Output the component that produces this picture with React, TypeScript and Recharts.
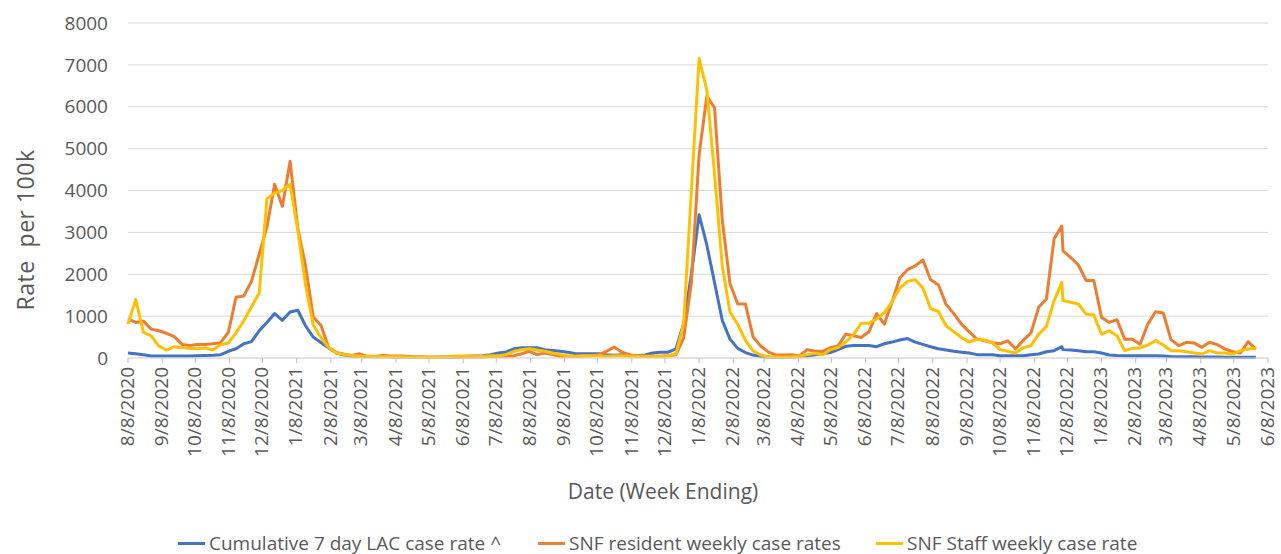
import { CartesianGrid, Label, Legend, Line, LineChart, XAxis, YAxis } from "recharts"

// week-ending dates (Saturdays, switching to Sundays in Dec 2022)
const weekEnding = [
  "2020-08-08", "2020-08-15", "2020-08-22", "2020-08-29", "2020-09-05", "2020-09-12", "2020-09-19", "2020-09-26",
  "2020-10-03", "2020-10-10", "2020-10-17", "2020-10-24", "2020-10-31", "2020-11-07", "2020-11-14", "2020-11-21",
  "2020-11-28", "2020-12-05", "2020-12-12", "2020-12-19", "2020-12-26", "2021-01-02", "2021-01-09", "2021-01-16",
  "2021-01-23", "2021-01-30", "2021-02-06", "2021-02-13", "2021-02-20", "2021-02-27", "2021-03-06", "2021-03-13",
  "2021-03-20", "2021-03-27", "2021-04-03", "2021-04-10", "2021-04-17", "2021-04-24", "2021-05-01", "2021-05-08",
  "2021-05-15", "2021-05-22", "2021-05-29", "2021-06-05", "2021-06-12", "2021-06-19", "2021-06-26", "2021-07-03",
  "2021-07-10", "2021-07-17", "2021-07-24", "2021-07-31", "2021-08-07", "2021-08-14", "2021-08-21", "2021-08-28",
  "2021-09-04", "2021-09-11", "2021-09-18", "2021-09-25", "2021-10-02", "2021-10-09", "2021-10-16", "2021-10-23",
  "2021-10-30", "2021-11-06", "2021-11-13", "2021-11-20", "2021-11-27", "2021-12-04", "2021-12-11", "2021-12-18",
  "2021-12-25", "2022-01-01", "2022-01-08", "2022-01-15", "2022-01-22", "2022-01-29", "2022-02-05", "2022-02-12",
  "2022-02-19", "2022-02-26", "2022-03-05", "2022-03-12", "2022-03-19", "2022-03-26", "2022-04-02", "2022-04-09",
  "2022-04-16", "2022-04-23", "2022-04-30", "2022-05-07", "2022-05-14", "2022-05-21", "2022-05-28", "2022-06-04",
  "2022-06-11", "2022-06-18", "2022-06-25", "2022-07-02", "2022-07-09", "2022-07-16", "2022-07-23", "2022-07-30",
  "2022-08-06", "2022-08-13", "2022-08-20", "2022-08-27", "2022-09-03", "2022-09-10", "2022-09-17", "2022-09-24",
  "2022-10-01", "2022-10-08", "2022-10-15", "2022-10-22", "2022-10-29", "2022-11-05", "2022-11-12", "2022-11-19",
  "2022-11-26", "2022-12-03", "2022-12-04", "2022-12-11", "2022-12-18", "2022-12-25", "2023-01-01", "2023-01-08",
  "2023-01-15", "2023-01-22", "2023-01-29", "2023-02-05", "2023-02-12", "2023-02-19", "2023-02-26", "2023-03-05",
  "2023-03-12", "2023-03-19", "2023-03-26", "2023-04-02", "2023-04-09", "2023-04-16", "2023-04-23", "2023-04-30",
  "2023-05-07", "2023-05-14", "2023-05-21", "2023-05-28",
]

const lacRate = [
  120, 100, 80, 50, 45, 45, 45, 45, 45, 55,
  60, 65, 80, 160, 220, 340, 390, 650, 850, 1060,
  900, 1100, 1140, 770, 500, 370, 240, 120, 70, 45,
  40, 35, 30, 30, 30, 25, 25, 20, 20, 20,
  20, 20, 25, 30, 40, 50, 55, 80, 120, 145,
  220, 245, 245, 245, 200, 180, 160, 140, 100, 100,
  100, 100, 80, 65, 80, 65, 55, 70, 120, 140,
  140, 220, 820, 2000, 3420, 2700, 1800, 900, 450, 230,
  130, 70, 40, 25, 20, 20, 20, 40, 55, 80,
  100, 130, 200, 280, 300, 300, 300, 270, 340, 380,
  430, 465, 380, 325, 270, 220, 190, 160, 140, 120,
  80, 80, 80, 55, 55, 55, 55, 80, 95, 150,
  175, 270, 200, 190, 175, 150, 150, 120, 70, 60,
  55, 55, 55, 55, 55, 50, 35, 30, 30, 30,
  25, 25, 25, 20, 20, 20, 20, 15,
]

const residentRate = [
  935, 850, 880, 690, 650, 590, 510, 325, 300, 325,
  325, 340, 365, 610, 1450, 1480, 1830, 2480, 3130, 4150,
  3620, 4700, 3100, 2200, 980, 780, 250, 130, 90, 60,
  100, 40, 35, 60, 50, 45, 40, 30, 25, 20,
  20, 25, 30, 30, 25, 25, 25, 40, 40, 40,
  55, 100, 160, 80, 120, 80, 40, 40, 40, 55,
  55, 80, 160, 260, 140, 80, 40, 40, 40, 40,
  55, 80, 480, 1800, 4850, 6250, 5980, 3300, 1780, 1290,
  1290, 500, 280, 140, 70, 70, 80, 50, 200, 160,
  160, 245, 285, 570, 530, 490, 625, 1060, 810, 1340,
  1910, 2110, 2200, 2340, 1870, 1750, 1280, 1060, 810, 625,
  450, 410, 365, 340, 410, 220, 420, 600, 1210, 1410,
  2850, 3150, 2560, 2400, 2220, 1850, 1850, 970, 850, 915,
  450, 450, 330, 810, 1105, 1075, 440, 295, 375, 360,
  255, 375, 320, 215, 150, 120, 390, 215,
]

const staffRate = [
  810, 1400, 610, 530, 285, 190, 270, 245, 230, 220,
  240, 190, 320, 360, 600, 890, 1220, 1550, 3800, 3940,
  4000, 4150, 3050, 1750, 790, 490, 250, 120, 80, 60,
  40, 40, 35, 30, 30, 30, 25, 25, 20, 20,
  20, 25, 40, 50, 50, 40, 40, 55, 55, 80,
  160, 200, 220, 190, 160, 120, 80, 55, 40, 55,
  55, 55, 40, 55, 55, 40, 40, 40, 40, 40,
  55, 100, 820, 4000, 7150, 6400, 4400, 2200, 1100, 800,
  420, 170, 70, 30, 25, 25, 25, 40, 80, 110,
  80, 200, 250, 380, 560, 830, 830, 935, 1080, 1340,
  1670, 1830, 1870, 1670, 1180, 1110, 770, 625, 490, 380,
  450, 430, 365, 200, 160, 120, 245, 295, 570, 750,
  1370, 1805, 1370, 1330, 1290, 1050, 1025, 570, 650, 530,
  175, 230, 240, 310, 415, 310, 175, 175, 150, 120,
  95, 175, 120, 120, 95, 175, 215, 230,
]

const monthTicks = [
  "8/8/2020", "9/8/2020", "10/8/2020", "11/8/2020", "12/8/2020",
  "1/8/2021", "2/8/2021", "3/8/2021", "4/8/2021", "5/8/2021", "6/8/2021",
  "7/8/2021", "8/8/2021", "9/8/2021", "10/8/2021", "11/8/2021", "12/8/2021",
  "1/8/2022", "2/8/2022", "3/8/2022", "4/8/2022", "5/8/2022", "6/8/2022",
  "7/8/2022", "8/8/2022", "9/8/2022", "10/8/2022", "11/8/2022", "12/8/2022",
  "1/8/2023", "2/8/2023", "3/8/2023", "4/8/2023", "5/8/2023", "6/8/2023",
]

const rateTicks = [0, 1000, 2000, 3000, 4000, 5000, 6000, 7000, 8000]

const seriesOrder = ["lac", "resident", "staff"]

const FONT = '"Open Sans", "Noto Sans", sans-serif'
const GREY = "#595959"

const isoTime = (s: string) => {
  const [y, m, d] = s.split("-").map(Number)
  return Date.UTC(y, m - 1, d)
}
const mdyTime = (s: string) => {
  const [m, d, y] = s.split("/").map(Number)
  return Date.UTC(y, m - 1, d)
}

const data = weekEnding.map((d, i) => ({
  t: isoTime(d),
  lac: lacRate[i],
  resident: residentRate[i],
  staff: staffRate[i],
}))

const tickTimes = monthTicks.map(mdyTime)
const tickText = new Map(tickTimes.map((t, i) => [t, monthTicks[i]]))

function DateTick(props: any) {
  const { x, y, payload } = props
  return (
    <g transform={`translate(${x},${y})`}>
      <text transform="rotate(-90)" x={-2} y={0} dy="0.3em" textAnchor="end" fill={GREY} fontSize={19} fontFamily={FONT}>
        {tickText.get(payload.value)}
      </text>
    </g>
  )
}

const legendWidths = [360, 338, 300]

function LegendContent(props: any) {
  const items = [...(props.payload ?? [])].sort(
    (a: any, b: any) => seriesOrder.indexOf(a.dataKey) - seriesOrder.indexOf(b.dataKey)
  )
  return (
    <div style={{ display: "flex", paddingLeft: 178, fontFamily: FONT, fontSize: 19, color: GREY, lineHeight: "26px" }}>
      {items.map((p: any, i: number) => (
        <div key={p.dataKey} style={{ display: "flex", alignItems: "center", width: legendWidths[i], whiteSpace: "nowrap" }}>
          <span style={{ display: "inline-block", width: 27, height: 3, background: p.color, marginRight: 4 }} />
          {p.value}
        </div>
      ))}
    </div>
  )
}

export default function App() {
  return (
    <div style={{ position: "absolute", left: 0, top: 0, width: 1281, height: 554, background: "#fff" }}>
      <LineChart width={1281} height={554} data={data} margin={{ top: 23, right: 13, left: 0, bottom: 0 }}>
        <CartesianGrid vertical={false} stroke="#d9d9d9" strokeWidth={1} />
        <XAxis
          dataKey="t"
          type="number"
          scale="linear"
          domain={[tickTimes[0], tickTimes[tickTimes.length - 1]]}
          ticks={tickTimes}
          interval={0}
          height={196}
          tick={<DateTick />}
          tickSize={5}
          tickMargin={2}
          tickLine={{ stroke: "#bfbfbf" }}
          axisLine={{ stroke: "#d9d9d9" }}
        >
          <Label
            content={() => (
              <text x={663} y={491} textAnchor="middle" dominantBaseline="central" fill={GREY} fontSize={21} fontFamily={FONT}>
                Date (Week Ending)
              </text>
            )}
          />
        </XAxis>
        <YAxis
          domain={[0, 8000]}
          ticks={rateTicks}
          width={128}
          axisLine={false}
          tickLine={false}
          tickSize={0}
          tickMargin={20}
          tick={{ fill: GREY, fontSize: 19, fontFamily: FONT }}
        >
          <Label
            content={() => (
              <text
                x={25}
                y={230}
                transform="rotate(-90 25 230)"
                textAnchor="middle"
                dominantBaseline="central"
                fill={GREY}
                fontSize={23}
                letterSpacing={0.5}
                fontFamily={FONT}
                style={{ whiteSpace: "pre" }}
              >
                {"Rate  per 100k"}
              </text>
            )}
          />
        </YAxis>
        <Legend
          layout="horizontal"
          align="center"
          verticalAlign="middle"
          content={<LegendContent />}
          wrapperStyle={{ top: 530, left: 0, width: 1281 }}
        />
        <Line
          type="linear"
          dataKey="lac"
          name="Cumulative 7 day LAC case rate ^"
          stroke="#4472C4"
          strokeWidth={3}
          dot={false}
          strokeLinejoin="round"
          isAnimationActive={false}
        />
        <Line
          type="linear"
          dataKey="resident"
          name="SNF resident weekly case rates"
          stroke="#ED7D31"
          strokeWidth={3}
          dot={false}
          strokeLinejoin="round"
          isAnimationActive={false}
        />
        <Line
          type="linear"
          dataKey="staff"
          name="SNF Staff weekly case rate"
          stroke="#FFC000"
          strokeWidth={3}
          dot={false}
          strokeLinejoin="round"
          isAnimationActive={false}
        />
      </LineChart>
    </div>
  )
}
